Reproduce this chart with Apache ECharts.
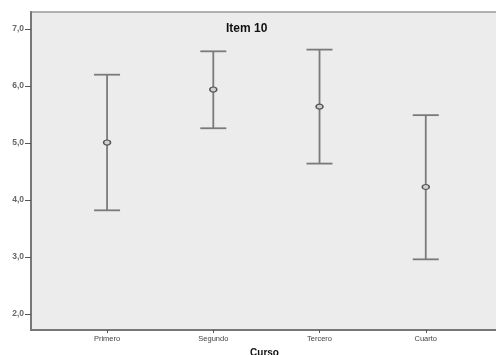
<!DOCTYPE html>
<html>
<head>
<meta charset="utf-8">
<script src="https://cdn.jsdelivr.net/npm/echarts@6/dist/echarts.min.js"></script>
<style>html,body{margin:0;padding:0;background:#fff;}#c{width:496px;height:355px;}</style>
</head>
<body>
<div id="c"></div>
<script>
var categories = ['Primero', 'Segundo', 'Tercero', 'Cuarto'];
var means = [5.01, 5.94, 5.64, 4.23];
var lower = [3.82, 5.26, 4.64, 2.96];
var upper = [6.20, 6.61, 6.64, 5.49];
var yTicks = [2, 3, 4, 5, 6, 7];
var xTicks = [0, 1, 2, 3];

var chart = echarts.init(document.getElementById('c'), null, {renderer: 'canvas'});
var barData = categories.map(function (c, i) { return [i, lower[i], upper[i]]; });
var meanData = categories.map(function (c, i) { return [i, means[i]]; });

chart.setOption({
  animation: false,
  title: {
    text: 'Item 10', left: 221, top: 18,
    textStyle: {fontFamily: 'Liberation Sans, Arial', fontSize: 12, fontWeight: 'bold', color: '#111'}
  },
  grid: {
    left: 31, top: 12, right: -2, bottom: 25, show: true,
    containLabel: false, outerBoundsMode: 'none',
    backgroundColor: '#ececec', borderColor: '#999', borderWidth: 1.5
  },
  xAxis: {
    type: 'value', min: -0.716, max: 3.68,
    name: 'Curso', nameLocation: 'middle', nameGap: 18,
    nameTextStyle: {fontFamily: 'Liberation Sans, Arial', fontSize: 10, fontWeight: 'bold', color: '#111'},
    splitLine: {show: false},
    axisLine: {show: true, onZero: false, lineStyle: {color: '#777', width: 2}},
    axisTick: {show: true, customValues: xTicks, length: 3, lineStyle: {color: '#555', width: 1}},
    axisLabel: {
      customValues: xTicks, margin: 5,
      fontFamily: 'Liberation Sans, Arial', fontSize: 7.5, color: '#444',
      formatter: function (v) { return categories[Math.round(v)] || ''; }
    }
  },
  yAxis: {
    type: 'value', min: 1.72, max: 7.3,
    splitLine: {show: false},
    axisLine: {show: true, onZero: false, lineStyle: {color: '#777', width: 2}},
    axisTick: {show: true, customValues: yTicks, length: 6, lineStyle: {color: '#555', width: 1}},
    axisLabel: {
      customValues: yTicks, margin: 7,
      fontFamily: 'Liberation Sans, Arial', fontSize: 8.5, fontWeight: 'bold', color: '#666',
      formatter: function (v) { return v.toFixed(1).replace('.', ','); }
    }
  },
  series: [
    {
      type: 'custom',
      data: barData,
      renderItem: function (params, api) {
        var x = api.value(0);
        var lo = api.coord([x, api.value(1)]);
        var hi = api.coord([x, api.value(2)]);
        var hw = 13;
        var st = {stroke: '#7a7a7a', lineWidth: 1.8, fill: null};
        return {
          type: 'group',
          children: [
            {type: 'line', shape: {x1: hi[0], y1: hi[1], x2: lo[0], y2: lo[1]}, style: st},
            {type: 'line', shape: {x1: hi[0] - hw, y1: hi[1], x2: hi[0] + hw, y2: hi[1]}, style: st},
            {type: 'line', shape: {x1: lo[0] - hw, y1: lo[1], x2: lo[0] + hw, y2: lo[1]}, style: st}
          ]
        };
      },
      z: 2
    },
    {
      type: 'scatter',
      data: meanData,
      symbol: 'circle',
      symbolSize: [7, 5],
      itemStyle: {color: '#cfcfcf', borderColor: '#555', borderWidth: 1.3, opacity: 1},
      z: 3
    }
  ]
});
</script>
</body>
</html>
